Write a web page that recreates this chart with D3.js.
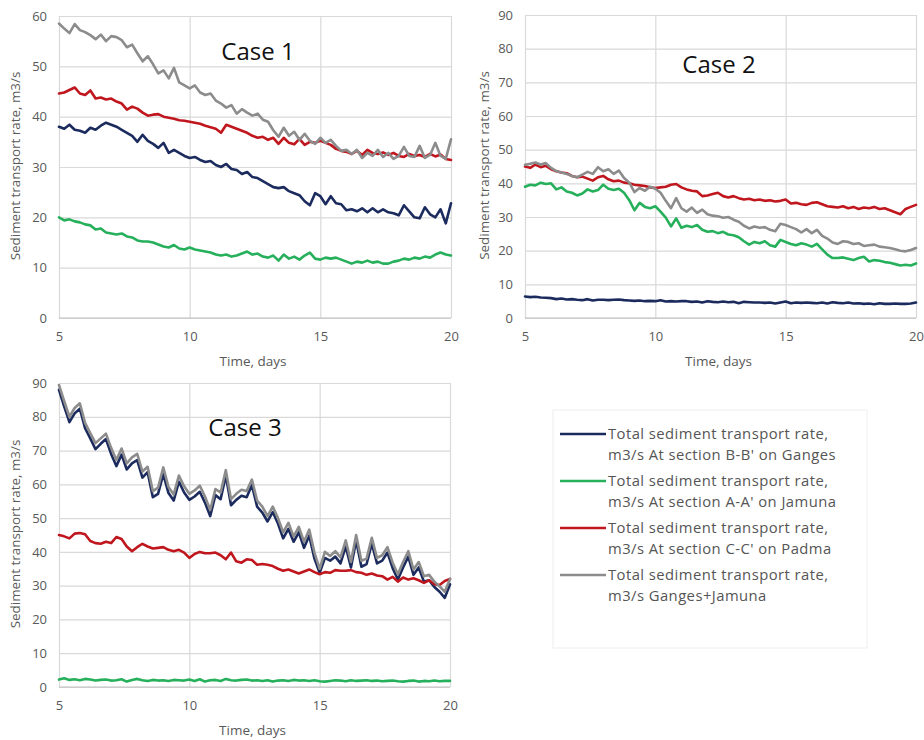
<!DOCTYPE html>
<html>
<head>
<meta charset="utf-8">
<script src="https://cdn.jsdelivr.net/npm/d3@7"></script>
<style>
  html, body { margin: 0; padding: 0; background: #ffffff; }
  svg { display: block; font-family: "Open Sans", "Noto Sans", sans-serif; }
</style>
</head>
<body>
<svg id="chart" width="924" height="740"></svg>
<script>
// ---------------- DATA ----------------
const days = [5.0,5.2,5.4,5.6,5.8,6.0,6.2,6.4,6.6,6.8,7.0,7.2,7.4,7.6,7.8,8.0,8.2,8.4,8.6,8.8,
  9.0,9.2,9.4,9.6,9.8,10.0,10.2,10.4,10.6,10.8,11.0,11.2,11.4,11.6,11.8,12.0,12.2,12.4,12.6,12.8,
  13.0,13.2,13.4,13.6,13.8,14.0,14.2,14.4,14.6,14.8,15.0,15.2,15.4,15.6,15.8,16.0,16.2,16.4,16.6,16.8,
  17.0,17.2,17.4,17.6,17.8,18.0,18.2,18.4,18.6,18.8,19.0,19.2,19.4,19.6,19.8,20.0];

const xTicks = [5, 10, 15, 20];
const yTicksCase1 = [0, 10, 20, 30, 40, 50, 60];
const yTicksCase23 = [0, 10, 20, 30, 40, 50, 60, 70, 80, 90];

const seriesNames = [
  ["Total sediment transport rate,", "m3/s At section B-B' on Ganges"],
  ["Total sediment transport rate,", "m3/s At section A-A' on Jamuna"],
  ["Total sediment transport rate,", "m3/s At section C-C' on Padma"],
  ["Total sediment transport rate,", "m3/s Ganges+Jamuna"]
];
const caseTitles = ["Case 1", "Case 2", "Case 3"];
const xTitle = "Time, days";
const yTitle = "Sediment transport rate, m3/s";

// Case 1
const case1Ganges = [38.0,37.6,38.4,37.4,37.2,36.8,37.8,37.4,38.2,38.8,38.4,38.0,37.4,36.8,36.2,35.0,36.4,35.2,34.6,33.8,
  34.8,32.8,33.4,32.8,32.2,31.8,32.0,31.4,31.0,31.2,30.4,30.0,30.6,29.6,29.4,28.6,29.0,28.0,27.8,27.2,
  26.6,26.0,25.8,26.0,25.2,24.8,24.4,23.2,22.4,24.8,24.2,22.6,24.2,22.8,22.6,21.4,21.6,21.2,21.8,21.0,
  21.8,21.0,21.6,21.0,20.8,20.4,22.4,21.2,20.0,19.8,22.0,20.6,20.0,21.6,18.8,22.8];
const case1Jamuna = [20.0,19.4,19.6,19.2,19.0,18.6,18.4,17.6,17.8,17.0,16.8,16.6,16.8,16.2,16.0,15.4,15.2,15.2,15.0,14.6,
  14.2,14.0,14.5,13.8,13.6,14.0,13.6,13.4,13.2,13.0,12.6,12.4,12.6,12.2,12.4,12.8,13.2,12.6,12.8,12.2,
  12.0,12.4,11.4,12.6,11.8,12.2,11.6,12.4,13.0,11.8,11.6,12.0,11.8,12.0,11.6,11.2,10.8,11.2,11.0,11.4,
  11.0,11.2,10.8,10.8,11.2,11.4,11.8,11.6,12.0,11.8,12.2,12.0,12.6,13.0,12.6,12.4];
const case1Padma = [44.6,44.8,45.3,45.8,44.6,44.3,45.2,43.6,43.8,43.4,43.6,43.0,42.6,41.4,42.0,41.6,40.8,40.2,40.4,40.5,
  40.0,39.8,39.6,39.3,39.2,39.0,38.8,38.6,38.2,37.9,37.6,36.8,38.4,38.0,37.6,37.2,36.8,36.2,35.8,36.0,
  35.4,35.8,34.6,35.8,34.8,34.5,35.6,34.4,35.0,34.8,35.2,34.8,34.4,33.6,33.2,33.0,32.6,33.2,32.4,33.4,
  32.8,32.6,32.9,32.4,32.8,32.2,32.0,32.6,32.2,32.4,32.0,32.6,32.1,32.5,31.6,31.4];
const case1Sum = [58.5,57.5,56.6,58.4,57.2,56.8,56.2,55.4,56.3,55.0,56.0,55.8,55.2,53.8,54.3,52.6,51.0,52.0,50.4,48.6,
  49.2,47.6,49.7,46.8,46.2,45.6,46.2,44.8,44.3,44.6,43.2,42.6,41.8,42.3,40.6,41.5,40.8,40.2,40.6,39.4,
  39.0,37.3,36.0,37.8,36.2,37.0,35.4,36.6,35.2,34.6,35.8,34.8,35.4,34.2,33.2,33.4,32.6,33.4,31.8,32.8,
  32.2,33.4,32.0,32.8,31.6,32.2,34.0,32.2,32.0,34.2,31.8,32.4,34.8,32.2,31.6,35.5];

// Case 2
const case2Ganges = [6.4,6.2,6.3,6.1,6.0,5.9,5.6,5.8,5.5,5.6,5.4,5.3,5.6,5.2,5.4,5.4,5.3,5.4,5.5,5.3,
  5.2,5.1,5.2,5.0,5.1,5.0,5.3,4.9,5.0,4.9,5.0,5.0,4.8,4.9,4.6,5.0,4.8,4.7,4.9,4.7,
  4.8,4.4,4.8,4.7,4.6,4.6,4.5,4.6,4.3,4.6,4.9,4.4,4.6,4.5,4.6,4.5,4.4,4.6,4.3,4.7,
  4.5,4.4,4.6,4.3,4.4,4.2,4.3,4.1,4.4,4.2,4.2,4.3,4.2,4.2,4.3,4.6];
const case2Jamuna = [39.0,39.6,39.4,40.2,39.8,40.0,38.2,38.8,37.6,37.2,36.4,37.0,38.2,37.6,38.0,39.6,38.4,38.0,38.4,37.2,
  35.0,32.0,34.2,33.0,32.6,33.2,31.6,29.8,27.2,29.6,26.8,27.4,27.0,27.6,26.2,25.6,25.8,25.2,25.6,24.8,
  24.6,24.0,22.8,21.8,22.6,22.2,22.8,21.6,21.2,23.2,22.6,22.0,21.6,22.2,21.8,21.2,22.0,20.4,18.8,17.8,
  17.8,18.0,17.6,17.2,17.8,18.2,16.8,17.2,17.0,16.6,16.4,16.0,15.6,15.8,15.6,16.2];
const case2Padma = [45.0,44.6,45.6,44.8,45.2,44.2,43.6,43.2,43.0,42.2,41.8,42.0,41.4,40.8,41.8,42.2,41.2,40.6,40.8,40.2,
  40.0,39.6,39.4,39.2,38.8,38.6,38.8,39.0,39.6,39.8,38.8,38.2,37.8,37.6,36.2,36.4,36.8,37.2,36.2,35.8,
  36.2,35.6,35.2,35.4,35.0,35.2,34.8,35.0,34.6,34.8,35.2,34.0,34.2,33.8,33.6,34.2,34.4,33.8,33.2,33.0,
  32.8,33.2,32.6,33.0,32.4,32.8,32.6,33.0,32.4,32.6,32.0,31.4,30.8,32.4,33.0,33.6];
const case2Sum = [45.5,45.8,46.2,45.6,46.0,44.6,43.6,43.2,42.8,42.2,41.8,42.6,43.4,42.8,44.8,43.6,44.2,42.8,43.8,41.6,
  40.2,37.4,38.6,37.8,39.0,38.4,37.2,34.8,32.6,35.6,32.6,31.6,32.8,31.2,32.2,30.8,30.4,30.2,29.8,30.0,
  29.2,28.6,27.4,26.6,27.2,26.8,27.0,26.2,25.8,28.0,27.6,27.0,26.4,25.4,26.4,25.2,26.2,24.4,23.6,22.4,
  22.0,22.8,22.6,22.0,22.2,21.4,21.6,21.8,21.2,21.0,20.8,20.4,20.0,19.8,20.2,20.8];

// Case 3
const case3Ganges = [88.0,83.0,78.4,81.0,82.4,76.6,73.6,70.4,72.0,73.4,69.0,65.4,68.8,64.4,66.2,67.2,62.0,63.6,56.2,57.2,
  63.0,57.4,55.2,60.8,57.6,55.4,56.4,57.8,54.6,50.6,56.8,55.6,62.6,53.8,55.4,56.6,56.2,59.8,53.4,51.6,
  49.0,51.8,48.4,44.0,46.8,43.0,45.8,41.2,44.8,38.0,33.8,38.2,37.4,38.6,36.6,41.6,35.4,43.4,35.6,36.4,
  42.4,36.6,37.4,39.8,35.2,31.8,35.4,38.6,33.2,35.4,31.2,31.6,29.6,28.2,26.4,30.4];
const case3Jamuna = [2.2,2.6,2.1,2.3,2.0,2.4,2.2,1.9,2.1,2.2,1.9,2.0,2.3,1.6,2.1,2.4,2.0,1.8,2.1,1.9,
  2.0,1.8,2.1,2.0,1.9,2.2,1.8,2.3,1.6,2.0,2.1,1.8,2.4,2.0,1.9,2.1,2.2,1.9,2.0,1.8,
  2.0,1.6,1.9,2.0,1.8,2.1,1.9,2.0,1.8,2.0,1.7,1.6,1.8,2.0,1.9,1.7,2.0,1.8,1.9,2.0,
  1.8,1.9,1.7,1.8,1.9,1.7,1.6,1.8,1.9,1.6,1.8,1.7,1.9,1.7,1.8,1.8];
const case3Padma = [45.0,44.6,44.0,45.4,45.6,45.2,43.2,42.6,42.4,43.0,42.6,44.4,43.8,41.6,40.2,41.4,42.4,41.6,41.0,41.2,
  41.4,40.6,40.2,40.6,39.8,38.2,39.4,40.0,39.6,39.6,39.8,39.0,37.8,39.8,37.2,36.8,37.8,37.6,36.2,36.4,
  36.2,35.8,35.0,34.4,34.8,34.2,33.6,34.2,34.8,34.0,33.4,34.0,33.8,34.6,34.4,34.4,34.6,34.0,33.8,33.2,
  33.6,33.0,32.8,31.8,32.6,31.2,32.4,31.8,32.2,31.6,30.8,31.6,30.4,30.2,31.4,32.0];
const case3Sum = [89.4,84.6,80.0,82.6,84.0,78.2,75.2,72.2,73.6,75.0,70.8,67.2,70.6,66.2,68.0,69.0,63.8,65.2,58.0,59.0,
  65.0,59.2,57.0,62.6,59.4,57.2,58.2,59.6,56.4,52.4,58.6,57.6,64.2,55.6,57.2,58.4,58.0,61.4,55.2,53.4,
  50.6,53.4,50.0,45.8,48.6,44.6,47.4,43.0,46.6,39.8,35.0,40.0,38.8,40.2,38.4,43.4,37.0,45.0,37.4,38.0,
  44.2,38.2,39.0,41.4,36.8,33.4,37.0,40.2,34.8,37.0,32.8,33.2,31.2,29.8,28.2,32.0];

// ---------------- STYLE / LAYOUT ----------------
const colors = ["#1c2b5e", "#27b05c", "#c0161e", "#8c8c8c"];
const tickColor = "#595959";
const gridColor = "#d9d9d9";

const panels = [
  { title: caseTitles[0], yTicks: yTicksCase1, series: [case1Ganges, case1Jamuna, case1Padma, case1Sum],
    x0: 59, x1: 451, yTop: 16, yBot: 318, titleX: 258, titleY: 60, yTitleX: 20, xLabY: 342, xTitleY: 366 },
  { title: caseTitles[1], yTicks: yTicksCase23, series: [case2Ganges, case2Jamuna, case2Padma, case2Sum],
    x0: 525, x1: 916, yTop: 15, yBot: 318, titleX: 719, titleY: 73, yTitleX: 489, xLabY: 342, xTitleY: 366 },
  { title: caseTitles[2], yTicks: yTicksCase23, series: [case3Ganges, case3Jamuna, case3Padma, case3Sum],
    x0: 59, x1: 450, yTop: 383, yBot: 687, titleX: 245, titleY: 436, yTitleX: 20, xLabY: 711, xTitleY: 735 }
];

const svg = d3.select("#chart");

panels.forEach(p => {
  const x = d3.scaleLinear().domain([5, 20]).range([p.x0, p.x1]);
  const yMax = p.yTicks[p.yTicks.length - 1];
  const y = d3.scaleLinear().domain([0, yMax]).range([p.yBot, p.yTop]);
  const g = svg.append("g");

  // gridlines via axes
  g.append("g")
    .attr("transform", `translate(${p.x0},0)`)
    .call(d3.axisLeft(y).tickValues(p.yTicks).tickSize(-(p.x1 - p.x0)).tickFormat(""))
    .call(s => s.select(".domain").remove())
    .call(s => s.selectAll("line").attr("stroke", gridColor).attr("stroke-width", 1.2));
  g.append("g")
    .attr("transform", `translate(0,${p.yBot})`)
    .call(d3.axisBottom(x).tickValues(xTicks).tickSize(-(p.yBot - p.yTop)).tickFormat(""))
    .call(s => s.select(".domain").remove())
    .call(s => s.selectAll("line").attr("stroke", gridColor).attr("stroke-width", 1.2));

  // bottom axis line
  g.append("line").attr("x1", p.x0).attr("x2", p.x1).attr("y1", y(0)).attr("y2", y(0))
    .attr("stroke", "#bfbfbf").attr("stroke-width", 1.2);

  // tick labels
  g.append("g")
    .attr("transform", `translate(${p.x0 - 12},0)`)
    .call(d3.axisLeft(y).tickValues(p.yTicks).tickSize(0).tickPadding(0))
    .call(s => s.select(".domain").remove())
    .call(s => s.selectAll("text").attr("fill", tickColor).style("font-size", "13px")
      .style("font-family", "'Open Sans', sans-serif"));
  g.append("g")
    .attr("transform", `translate(0,${p.xLabY - 10})`)
    .call(d3.axisBottom(x).tickValues(xTicks).tickSize(0).tickPadding(0))
    .call(s => s.select(".domain").remove())
    .call(s => s.selectAll("text").attr("fill", tickColor).style("font-size", "13px")
      .style("font-family", "'Open Sans', sans-serif"));

  // axis titles
  g.append("text").attr("x", (p.x0 + p.x1) / 2 - 2).attr("y", p.xTitleY)
    .attr("text-anchor", "middle").attr("fill", tickColor).style("font-size", "13.5px").text(xTitle);
  g.append("text")
    .attr("transform", `translate(${p.yTitleX},${(p.yTop + p.yBot) / 2 - 1}) rotate(-90)`)
    .attr("text-anchor", "middle").attr("fill", tickColor).style("font-size", "13.4px").text(yTitle);

  // lines
  const line = d3.line().x((d, i) => x(days[i])).y(d => y(d));
  p.series.forEach((s, k) => {
    g.append("path").datum(s).attr("d", line)
      .attr("fill", "none").attr("stroke", colors[k]).attr("stroke-width", 2.6)
      .attr("stroke-linejoin", "round").attr("stroke-linecap", "round");
  });

  // case title
  g.append("text").attr("x", p.titleX).attr("y", p.titleY).attr("text-anchor", "middle")
    .attr("fill", "#111").style("font-size", "24px").text(p.title);
});

// ---------------- LEGEND ----------------
const leg = svg.append("g");
leg.append("rect").attr("x", 553).attr("y", 410).attr("width", 314).attr("height", 238)
  .attr("fill", "#ffffff").attr("stroke", "#eeeeee").attr("stroke-width", 1);
seriesNames.forEach((lines, i) => {
  const cy = 434 + i * 47;
  leg.append("line").attr("x1", 560).attr("x2", 606).attr("y1", cy).attr("y2", cy)
    .attr("stroke", colors[i]).attr("stroke-width", 2.6);
  lines.forEach((t, j) => {
    leg.append("text").attr("x", 608).attr("y", cy + 5 + j * 20.5)
      .attr("fill", "#555555").style("font-size", "14.8px").style("letter-spacing", "0.45px").text(t);
  });
});
</script>
</body>
</html>
